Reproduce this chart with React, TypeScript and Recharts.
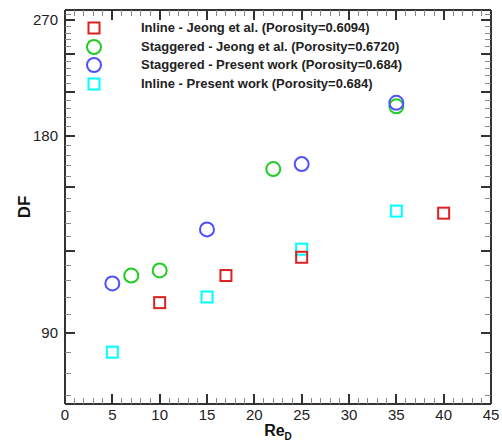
import { ScatterChart, Scatter, XAxis, YAxis, Label } from 'recharts';

// Re_D vs DF
const inlineJeong = [
  { x: 10, y: 100 },
  { x: 17, y: 110 },
  { x: 25, y: 117.3 },
  { x: 40, y: 137 },
];
const staggeredJeong = [
  { x: 7, y: 110 },
  { x: 10, y: 112 },
  { x: 22, y: 160 },
  { x: 35, y: 199.5 },
];
const staggeredPresent = [
  { x: 5, y: 107 },
  { x: 15, y: 129.4 },
  { x: 25, y: 162.8 },
  { x: 35, y: 202 },
];
const inlinePresent = [
  { x: 5, y: 84 },
  { x: 15, y: 102 },
  { x: 25, y: 120.7 },
  { x: 35, y: 138 },
];

const xTicks = [
  0, 1, 2, 3, 4, 5, 6, 7, 8, 9, 10, 11, 12, 13, 14, 15, 16, 17, 18, 19, 20, 21, 22, 23, 24, 25, 26, 27, 28, 29, 30,
  31, 32, 33, 34, 35, 36, 37, 38, 39, 40, 41, 42, 43, 44, 45,
];
const yTicks = [
  72, 78, 84, 90, 96, 102, 108, 114, 120, 126, 132, 138, 144, 150, 156, 162, 168, 174, 180, 186, 192, 198, 204, 210,
  216, 222, 228, 234, 240, 246, 252, 258, 264, 270, 276,
];
const yLabels = [90, 180, 270];
const xDomain = [0, 45];
const yDomain = [70, 280];

const legendItems = [
  { name: 'Inline - Jeong et al. (Porosity=0.6094)', color: '#dd2020', shape: 'square' },
  { name: 'Staggered - Jeong et al. (Porosity=0.6720)', color: '#22cc22', shape: 'circle' },
  { name: 'Staggered - Present work (Porosity=0.684)', color: '#5050ff', shape: 'circle' },
  { name: 'Inline - Present work (Porosity=0.684)', color: '#00ffff', shape: 'square' },
];

const FONT = '"Liberation Sans", Arial, sans-serif';
const AXIS = '#333333';
const MINOR = '#888888';

const W = 502;
const H = 443;
const M = { top: 9, right: 10 };
const PLOT = { left: 65, right: W - M.right - 1, top: M.top + 1, bottom: H - 39 };

const square = (color: string) => (props: any) => (
  <rect x={props.cx - 5.5} y={props.cy - 5.5} width={11} height={11} fill="none" stroke={color} strokeWidth={2} />
);
const circle = (color: string) => (props: any) => (
  <circle cx={props.cx} cy={props.cy} r={7} fill="none" stroke={color} strokeWidth={2} />
);

const isMajorY = (v: number) => v % 30 === 0;
const isMajorX = (v: number) => v % 5 === 0;

const LeftTick = ({ x, y, payload }: any) =>
  yLabels.includes(payload.value) ? (
    <text x={x - 7} y={y + 5} textAnchor="end" fontSize={15} fill="#222" fontFamily={FONT}>
      {payload.value}
    </text>
  ) : (
    <g />
  );
const BottomTick = ({ x, y, payload }: any) =>
  isMajorX(payload.value) ? (
    <text x={x} y={y + 16} textAnchor="middle" fontSize={15} fill="#222" fontFamily={FONT}>
      {payload.value}
    </text>
  ) : (
    <g />
  );

// inward tick marks on all four sides, same mapping as the axes
const px = (v: number) => PLOT.left + ((v - xDomain[0]) / (xDomain[1] - xDomain[0])) * (PLOT.right - PLOT.left);
const py = (v: number) =>
  PLOT.top + ((Math.log(yDomain[1]) - Math.log(v)) / (Math.log(yDomain[1]) - Math.log(yDomain[0]))) * (PLOT.bottom - PLOT.top);

const box = (left: number, top: number, width: number, height: number, color: string) => ({
  position: 'absolute' as const,
  left,
  top,
  width,
  height,
  background: color,
});

const TickMarks = () => (
  <div style={{ position: 'absolute', left: 0, top: 0, width: W, height: H, pointerEvents: 'none' }}>
    {xTicks.map((v) => {
      const major = isMajorX(v);
      const len = major ? 10 : 6;
      const t = major ? 2 : 1;
      const c = major ? AXIS : MINOR;
      const x = Math.round(px(v) - t / 2);
      return (
        <div key={`x${v}`}>
          <div style={box(x, PLOT.bottom - len, t, len, c)} />
          <div style={box(x, PLOT.top, t, len, c)} />
        </div>
      );
    })}
    {yTicks.map((v) => {
      const major = isMajorY(v);
      const len = major ? 10 : 6;
      const t = major ? 2 : 1;
      const c = major ? AXIS : MINOR;
      const y = Math.round(py(v) - t / 2);
      return (
        <div key={`y${v}`}>
          <div style={box(PLOT.left, y, len, t, c)} />
          <div style={box(PLOT.right - len, y, len, t, c)} />
        </div>
      );
    })}
  </div>
);

const LegendBox = () => (
  <div style={{ position: 'absolute', left: 86, top: 19, width: 400, height: 80, fontFamily: FONT, pointerEvents: 'none' }}>
    {legendItems.map((item, i) => (
      <div key={item.name} style={{ position: 'absolute', left: 0, top: i * 18.5, height: 18 }}>
        <svg width={16} height={16} style={{ position: 'absolute', left: 0, top: 1 }}>
          {item.shape === 'square' ? (
            <rect x={2.5} y={2.5} width={11} height={11} fill="none" stroke={item.color} strokeWidth={2} />
          ) : (
            <circle cx={8} cy={8} r={7} fill="none" stroke={item.color} strokeWidth={2} />
          )}
        </svg>
        <span style={{ position: 'absolute', left: 55, top: 0, lineHeight: '18px', whiteSpace: 'nowrap', fontSize: 13, fontWeight: 'bold', color: '#222' }}>
          {item.name}
        </span>
      </div>
    ))}
  </div>
);

const axisLineStyle = { stroke: AXIS, strokeWidth: 2 };

export default function App() {
  return (
    <div style={{ position: 'absolute', left: 0, top: 0, width: W, height: H, background: '#fff' }}>
      <ScatterChart width={W} height={H} margin={{ top: M.top, right: M.right, bottom: 0, left: 0 }}>
        <XAxis
          xAxisId="b"
          dataKey="x"
          type="number"
          domain={xDomain}
          ticks={xTicks}
          interval={0}
          height={39}
          tickSize={0}
          tickMargin={0}
          tickLine={false}
          tick={BottomTick}
          axisLine={axisLineStyle}
        >
          <Label
            content={({ viewBox }: any) => (
              <text x={viewBox.x + viewBox.width / 2} y={viewBox.y + 32} textAnchor="middle" fontFamily={FONT} fontWeight="bold" fontSize={16} fill="#111">
                <tspan>Re</tspan>
                <tspan fontSize={10} dy={4}>D</tspan>
              </text>
            )}
          />
        </XAxis>
        <XAxis xAxisId="t" orientation="top" dataKey="x" type="number" domain={xDomain} ticks={xTicks} interval={0} height={1} tickSize={0} tickLine={false} tick={false} axisLine={axisLineStyle} />
        <YAxis
          yAxisId="l"
          dataKey="y"
          type="number"
          scale="log"
          domain={yDomain}
          allowDataOverflow
          ticks={yTicks}
          interval={0}
          width={65}
          tickSize={0}
          tickMargin={0}
          tickLine={false}
          tick={LeftTick}
          axisLine={axisLineStyle}
        >
          <Label
            content={({ viewBox }: any) => {
              const cx = viewBox.x + 24;
              const cy = viewBox.y + viewBox.height / 2;
              return (
                <text x={cx} y={cy} transform={`rotate(-90 ${cx} ${cy})`} textAnchor="middle" dominantBaseline="central" fontFamily={FONT} fontWeight="bold" fontSize={17} fill="#111">
                  DF
                </text>
              );
            }}
          />
        </YAxis>
        <YAxis yAxisId="r" orientation="right" dataKey="y" type="number" scale="log" domain={yDomain} allowDataOverflow ticks={yTicks} interval={0} width={1} tickSize={0} tickLine={false} tick={false} axisLine={axisLineStyle} />
        <Scatter name="Inline - Present work" data={inlinePresent} xAxisId="t" yAxisId="r" shape={square('#00ffff')} isAnimationActive={false} />
        <Scatter name="Inline - Jeong et al." data={inlineJeong} xAxisId="b" yAxisId="l" shape={square('#dd2020')} isAnimationActive={false} />
        <Scatter name="Staggered - Jeong et al." data={staggeredJeong} xAxisId="b" yAxisId="l" shape={circle('#22cc22')} isAnimationActive={false} />
        <Scatter name="Staggered - Present work" data={staggeredPresent} xAxisId="t" yAxisId="r" shape={circle('#5050ff')} isAnimationActive={false} />
      </ScatterChart>
      <TickMarks />
      <LegendBox />
    </div>
  );
}
